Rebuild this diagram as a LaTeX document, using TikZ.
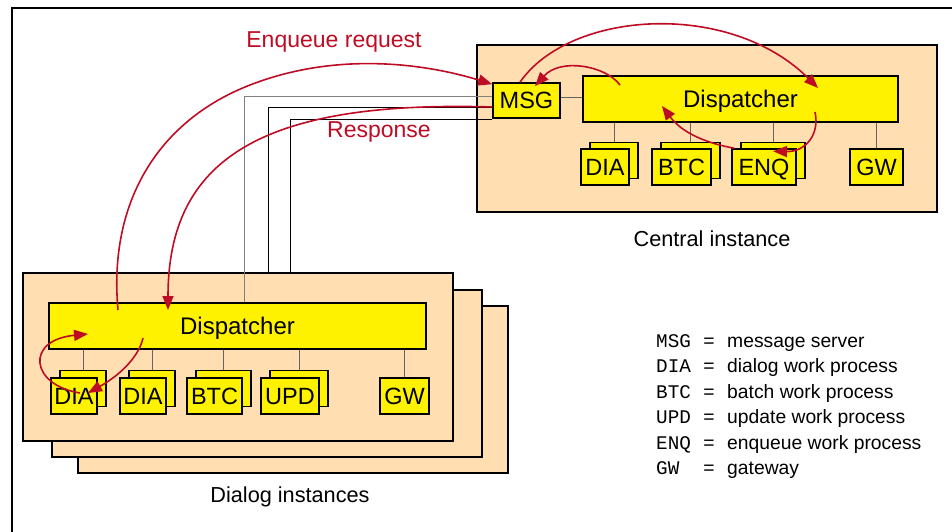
\documentclass[tikz,border=0pt]{standalone}
\usepackage{fontspec}
\setmainfont{Liberation Sans}
\setmonofont{Liberation Mono}
\usetikzlibrary{arrows.meta}
\usetikzlibrary{positioning}
\definecolor{peach}{RGB}{255,222,178}
\definecolor{sapred}{RGB}{190,12,36}
\definecolor{linkgray}{RGB}{100,100,100}

\begin{document}
\begin{tikzpicture}[x=1pt, y=-1pt,
    instance/.style = {shape=rectangle, draw, line width=1.6pt, fill=peach},
    dispatcher/.style = {shape=rectangle, draw, line width=1.6pt, fill=yellow,
      minimum height=46pt, text height=17pt, text depth=0pt,
      font=\fontsize{24}{26}\selectfont},
    wp/.style = {shape=rectangle, draw, line width=1.6pt, fill=yellow,
      minimum height=36pt, inner sep=0pt, text height=17pt, text depth=0pt,
      font=\fontsize{23.5}{25}\selectfont},
    link/.style = {draw=linkgray, line width=1pt},
    flow/.style = {draw=sapred, line width=1.6pt,
      -{Triangle[length=14pt,width=11pt]}},
    caption/.style = {font=\fontsize{21.7}{24}\selectfont},
    flowlabel/.style = {text=sapred, font=\fontsize{23}{25}\selectfont},
    legend/.style = {inner sep=0pt, font=\fontsize{19.3}{21}\selectfont}]
  \useasboundingbox (0,0) rectangle (952,532);
  \draw[line width=1.2pt] (12,532) -- (12,8) -- (952,8);

  \node[instance, minimum width=460pt, minimum height=167pt] (central) at (707,128.5) {};
  \node[instance, minimum width=430pt, minimum height=167pt] (dback) at (293,389.5) {};
  \node[instance, minimum width=430pt, minimum height=167pt] (dmid) at (267,373.5) {};
  \node[instance, minimum width=430pt, minimum height=168pt] (dfront) at (238,357) {};

  \node[wp, minimum width=67pt, minimum height=35pt] (msg) at (526.5,100.5) {MSG};
  \node[dispatcher, minimum width=315pt] (cdisp) at (740.5,99) {Dispatcher};
  \node[dispatcher, minimum width=377pt] (ddisp) at (237.5,326) {Dispatcher};

  \draw[link] ([yshift=3pt]msg.east) -- ([yshift=3pt]msg.east -| cdisp.west);
  \draw[link, draw=gray] ([yshift=3.5pt]msg.west) -| ([xshift=6.5pt]ddisp.north);
  \draw[link, draw=black, line width=0.8pt] ([yshift=-6.5pt]msg.west) -| ([xshift=30pt]dfront.north);
  \draw[link, draw=black, line width=0.8pt] ([yshift=-18.5pt]msg.west) -| ([xshift=52pt]dfront.north);

  \foreach \name/\txt/\x/\w in {cdia/DIA/605/48, cbtc/BTC/681.5/59, cenq/ENQ/764/64} {
    \node[wp, minimum width=\w pt] (\name-b) at (\x+9,160.5) {};
    \node[wp, minimum width=\w pt] (\name) at (\x,167) {\txt};
    \draw[link] (\name-b.north) -- (\name-b.north |- cdisp.south);
  }
  \node[wp, minimum width=53pt] (cgw) at (876.5,167) {GW};
  \draw[link] (cgw.north) -- (cgw.north |- cdisp.south);

  \foreach \name/\txt/\x/\w in {ddia1/DIA/74/46, ddia2/DIA/143/46, dbtc/BTC/214.5/55, dupd/UPD/290/58} {
    \node[wp, minimum width=\w pt] (\name-b) at (\x+9,388.5) {};
    \node[wp, minimum width=\w pt] (\name) at (\x,396) {\txt};
    \draw[link] (\name-b.north) -- (\name-b.north |- ddisp.south);
  }
  \node[wp, minimum width=49pt] (dgw) at (404.5,396) {GW};
  \draw[link] (dgw.north) -- (dgw.north |- ddisp.south);

  \node[caption] (ccap) at (712,239) {Central instance};
  \node[caption] (dcap) at (290,497) {Dialog instances};
  \node[flowlabel] (reqlabel) at (334,42) {Enqueue request};
  \node[flowlabel] (resplabel) at (379,132) {Response};

  \foreach \key/\desc [count=\i] in {MSG/message server, DIA/dialog work process,
      BTC/batch work process, UPD/update work process,
      ENQ/enqueue work process, GW/gateway} {
    \node[legend, anchor=base west] (key\i) at (656,322+25.4*\i) {\texttt{\key}};
    \node[legend, anchor=base] (eq\i) at (709,322+25.4*\i) {=};
    \node[legend, anchor=base west] (desc\i) at (727,322+25.4*\i) {\desc};
  }

  \coordinate (dout) at (118,310);
  \coordinate (din) at (168,310);
  \coordinate (cin) at (818,88);
  \coordinate (cout) at (620,85);
  \coordinate (cret) at (815,112);
  \coordinate (cback) at (662,106);
  \coordinate (dloop) at (88,334);
  \coordinate (dsend) at (143,338);

  \draw[flow] (dout) .. controls (108,200) and (160,120) .. (250,85)
    .. controls (340,50) and (430,65) .. ([yshift=-2pt]msg.north west);
  \draw[flow] ([yshift=-6.5pt]msg.west) .. controls (260,100) and (168,160) .. (din);
  \draw[flow] ([xshift=-6.5pt]msg.north) .. controls (570,10) and (730,0) .. (cin);
  \draw[flow] (cout) .. controls (605,65) and (560,58) .. ([xshift=8.5pt,yshift=-4pt]msg.north);
  \draw[flow] (cret) .. controls (820,135) and (805,152) .. ([xshift=9pt,yshift=-3pt]cenq.north);
  \draw[flow] ([xshift=3pt]cenq.north west) .. controls (700,142) and (680,130) .. (cback);
  \draw[flow] ([xshift=6pt,yshift=3pt]ddia1.center) .. controls (30,385) and (25,340) .. (dloop);
  \draw[flow] (dsend) .. controls (138,360) and (115,378) .. ([xshift=14pt,yshift=3pt]ddia1.center);
\end{tikzpicture}
\end{document}
